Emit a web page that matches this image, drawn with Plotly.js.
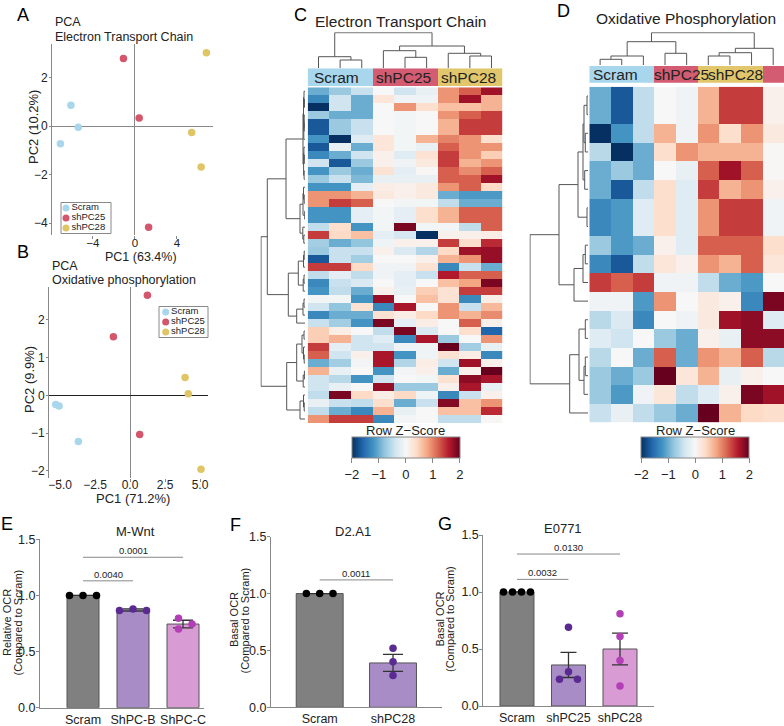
<!DOCTYPE html>
<html><head><meta charset="utf-8">
<script src="https://cdn.plot.ly/plotly-3.0.1.min.js"></script>
<style>html,body{margin:0;padding:0;background:#fff}#chart{width:784px;height:726px}</style>
</head><body><div id="chart"></div>
<script>
// ================= DATA =================
const groups = ['Scram', 'shPC25', 'shPC28'];
const groupColors = ['#a8d6ec', '#d4566d', '#e0c566'];

// Panel A: PCA, Electron Transport Chain
const pcaA_group = [0, 0, 0, 1, 1, 1, 2, 2, 2];
const pcaA_pc1 = [-6.1, -5.4, -7.1, -1.1, 0.4, 1.3, 6.8, 5.4, 6.3];
const pcaA_pc2 = [0.86, -0.05, -0.73, 2.78, 0.33, -4.17, 3.02, -0.27, -1.69];

// Panel B: PCA, Oxidative phosphorylation
const pcaB_group = [0, 0, 0, 1, 1, 1, 2, 2, 2];
const pcaB_pc1 = [-5.31, -5.07, -3.69, 1.24, -1.19, 0.69, 3.93, 4.16, 5.07];
const pcaB_pc2 = [-0.24, -0.28, -1.22, 2.65, 1.55, -1.04, 0.47, 0.04, -1.96];

// Panel C: heatmap, Electron Transport Chain (row z-scores)
const etcColGroup = [0, 0, 0, 1, 1, 1, 2, 2, 2];
const etcZ = [
 [-1.0,-0.75,-0.45, 0,-0.4,-0.15, 0.9,1.2,1.7],
 [-1.3,-0.4,-1.0, 0.25,-0.08,-0.08, 0.9,1.7,0.7],
 [-2.0,-0.4,-1.0, 0,0.9,0.35, 0.6,0.6,0.7],
 [-0.75,-1.0,-1.0, 0,-0.05,0, 0.9,1.2,1.4],
 [-1.7,-0.75,-0.45, 0,-0.05,0, 0.7,1.4,1.4],
 [-1.7,-0.75,-0.45, 0,-0.05,0, 0.7,1.4,1.4],
 [-1.2,-2.0,-0.25, 0.25,-0.05,0.7, 1.0,0.9,0.35],
 [-1.7,-0.15,-1.0, 0.25,-0.05,-0.15, 1.2,0.9,0.9],
 [-1.3,-1.0,-0.4, 0.1,-0.25,0.3, 1.4,0.9,0.5],
 [-0.4,-1.7,-0.75, 0.1,-0.08,0.2, 1.4,0.7,0.9],
 [-1.2,-0.75,-1.0, 0.3,-0.2,0.02, 1.2,0.95,1.2],
 [-0.75,-0.45,-0.9, -0.15,-0.15,-0.15, 1.2,1.2,1.7],
 [-1.2,-1.2,-0.2, 0.15,0.1,0.2, 0.9,1.2,0.4],
 [0.9,0.9,0.7, 0.2,0.1,0.2, -1.0,-1.15,-1.15],
 [0.9,1.4,1.2, 0,-0.05,-0.05, -0.5,-1.0,-1.0],
 [-1.2,-1.2,-0.2, -0.05,-0.2,0.35, 0.7,1.2,1.2],
 [-1.2,-1.2,-0.2, -0.05,-0.2,0.35, 0.7,1.2,1.2],
 [-0.5,0.35,-1.2, -0.05,1.9,-0.05, -0.05,-0.5,1.2],
 [1.4,0.4,0.6, -0.2,-0.35,-2.0, 0.1,0.1,0.15],
 [-0.7,-1.0,-0.8, -0.1,0.1,0.1, 1.4,0.35,1.5],
 [-0.75,-0.45,-0.45, 0.1,-0.3,-0.6, 0.4,1.7,1.75],
 [-1.7,-0.45,-0.7, 0,0,0.1, 0.7,0.9,1.75],
 [1.4,1.4,0.4, -0.08,-0.08,0.3, -1.3,-0.45,-1.0],
 [-0.5,-0.2,-0.5, -0.08,-0.2,-0.45, 1.6,1.2,1.2],
 [-1.3,-0.45,-0.3, 0,-0.2,0, 0.6,0.8,1.9],
 [-1.2,-0.5,-1.0, 0.1,-0.15,0.5, 0.3,1.4,1.4],
 [-0.05,-0.05,-1.2, 1.75,0,0.6, 0.3,-1.3,0.15],
 [-0.4,-0.8,0.3, -1.3,1.65,0, 0.9,-0.45,0.65],
 [-1.3,-1.0,-1.0, 0.3,0.15,0.4, 0.9,0.7,0.95],
 [-0.45,-0.7,-1.2, 1.9,-0.2,0.15, 0,1.2,0.1],
 [0.5,0.15,0, -0.5,1.9,-0.3, 0,0.35,-1.6],
 [0.5,0.7,-0.4, -0.25,-1.3,1.65, -0.75,0,0.9],
 [1.4,-0.2,-0.4, -0.4,-0.08,-0.08, 2.0,-0.7,-0.15],
 [1.2,-0.4,0.1, 1.65,-1.2,-0.1, 0.3,0.15,-1.3],
 [-1.0,-0.7,-0.05, 1.65,-0.6,0.15, -0.4,1.7,0.1],
 [0.7,-0.15,0, -1.2,-0.05,0.1, -1.0,0.1,2.0],
 [-0.4,-0.55,-1.2, -0.4,0,-0.05, 0.3,1.8,1.65],
 [-0.4,-0.15,0, 1.75,-0.75,-0.75, 0.1,1.65,-0.15],
 [-0.5,1.9,0.4, 0.15,0.4,-0.1, -1.3,-0.45,0.1],
 [-0.15,-0.45,-0.5, 0.35,-1.0,-0.45, 1.85,0.6,0.9],
 [-0.5,-1.0,-1.3, 0.7,-0.15,0, 0.6,0.6,1.5],
 [0.9,1.4,1.4, -1.3,-0.05,0, -0.5,-0.5,0.02]
];
// dendrograms: [left, right, height]; leaves are row / column indices
const etcColTree = [[0,[1,2,8.3],11.6],[[3,[4,5,11],17.6],[6,[7,8,12.3],15],22.3],35.6];
const etcRowTree = [
  [
    [
      [[[0,[1,2,0.6],1.0],[[3,[4,5,0.2],0.8],6,1.2],1.5],[[7,[8,9,0.7],1.1],[10,11,0.9],1.4],2.0],
      [[[12,[13,14,0.8],1.5],[15,16,0.3],2.0],[17,[18,19,1.2],2.2],5.0],
      19],
    [
      [[[20,21,0.8],22,1.5],[[23,24,1.0],25,1.8],6.7],
      [[[26,27,1.0],28,2.0],29,8.3],
      16.7],
    37.7],
  [
    [[[30,31,1.0],[32,[33,34,0.8],1.5],3.0],[[35,36,0.6],37,1.8],8.3],
    [[38,[39,40,0.8],1.5],41,5.0],
    18.3],
  44];

// Panel D: heatmap, Oxidative Phosphorylation
const oxColGroup = [0, 0, 0, 1, 1, 2, 2, 2, 1];
const oxZ = [
 [-1.0,-1.7,-0.5, 0,-0.08, 0.7,1.4,1.4, 0.1],
 [-1.0,-1.7,-0.5, 0,-0.08, 0.7,1.4,1.4, 0.1],
 [-2.0,-1.2,-0.5, 0.7,-0.08, 0.9,0.35,0.9, 0.2],
 [-0.55,-2.0,-1.0, 0.35,0.9, 0.7,0.7,0.7, 0.02],
 [-1.0,-0.75,-1.0, 0,-0.15, 1.2,1.7,1.2, 0.02],
 [-1.0,-1.7,-0.5, 0.35,-0.25, 1.4,0.7,0.9, 0.1],
 [-1.3,-1.15,-0.25, 0.35,-0.25, 0.9,1.4,1.4, -0.08],
 [-1.3,-1.15,-0.25, 0.35,-0.25, 0.9,1.4,1.4, -0.08],
 [-0.75,-1.15,-1.0, 0.1,-0.25, 1.2,1.2,1.2, 0.35],
 [-1.3,-1.7,-0.5, 0.25,0.1, 0.9,0.7,1.2, 0.25],
 [1.4,1.2,1.4, -0.08,-0.08, -0.5,-1.0,-1.15, 0],
 [-0.08,-0.08,-1.15, 0.9,0, 0.2,0.1,-1.3, 1.9],
 [-0.55,-0.3,-1.3, 0,-0.08, 0.2,1.7,1.8, -0.25],
 [-0.25,-0.4,0, -0.75,-1.0, 0.1,-0.15,1.8, 1.8],
 [-0.55,0,-1.0, 1.2,-1.0, 0.9,0.7,1.2, -0.55],
 [-0.75,-1.0,-0.75, 2.0,0.25, 0.7,-0.15,0.1, 0],
 [-0.75,-1.15,-0.08, 0.25,-0.5, -0.25,0.1,1.9, 1.7],
 [-0.45,-0.15,-0.5, -0.75,-1.0, 2.0,0.7,0.4, 0.35]
];
const oxColTree = [[[[0,1,5.7],2,9],[3,4,11.7],23.3],[[[5,6,9],7,12.3],8,16.7],32.3];
const oxRowTree = [
  [
    [[[[0,1,1],[2,3,2.7],4],[4,5,3.3],5],[6,7,1],10],
    [[[8,9,2.7],10,5],11,14],
    29],
  [[[12,13,2.7],[[14,15,2.7],16,4],9],17,18.3],
  58];

// Panel E: M-Wnt
const E_labels = ['Scram', 'ShPC-B', 'ShPC-C'];
const E_mean = [1.0, 0.87, 0.745];
const E_sem = [0, 0.01, 0.034];
const E_points = [[1, 1, 1], [0.865, 0.88, 0.865], [0.797, 0.746, 0.70]];
const E_sigPairs = [[0, 2], [0, 1]];
const E_sigP = ['0.0001', '0.0040'];

// Panel F: D2.A1
const F_labels = ['Scram', 'shPC28'];
const F_mean = [1.0, 0.39];
const F_sem = [0, 0.075];
const F_points = [[1, 1, 1], [0.52, 0.40, 0.28]];
const F_sigPairs = [[0, 1]];
const F_sigP = ['0.0011'];

// Panel G: E0771
const G_labels = ['Scram', 'shPC25', 'shPC28'];
const G_mean = [1.0, 0.36, 0.50];
const G_sem = [0, 0.11, 0.14];
const G_points = [[1, 1, 1, 1], [0.69, 0.30, 0.235, 0.235], [0.81, 0.61, 0.40, 0.175]];
const G_sigPairs = [[0, 2], [0, 1]];
const G_sigP = ['0.0130', '0.0032'];

// ================= DRAWING =================
const FONT = 'Liberation Sans, Arial, Helvetica, sans-serif';
const W = 784, H = 726;
const X = (a, b) => [a / W, b / W];
const Y = (top, bottom) => [1 - bottom / H, 1 - top / H];
const PX = x => x / W, PY = y => 1 - y / H;

const traces = [], shapes = [], annotations = [];
const layout = {
  width: W, height: H, margin: {l: 0, r: 0, t: 0, b: 0},
  paper_bgcolor: '#fff', plot_bgcolor: 'rgba(0,0,0,0)', showlegend: false,
  font: {family: FONT, color: '#222', size: 12}, shapes, annotations
};
function txt(x, y, text, size, opts) {
  annotations.push(Object.assign({xref: 'paper', yref: 'paper', x: PX(x), y: PY(y), text: text,
    showarrow: false, font: {family: FONT, size: size, color: '#222'}, xanchor: 'center', yanchor: 'middle'}, opts || {}));
}
const hidden = {visible: false, showgrid: false, zeroline: false, fixedrange: true};

// ---------- PCA ----------
function pca(ax, group, pc1, pc2) {
  for (let g = 0; g < groups.length; g++) {
    const idx = group.map((v, i) => v === g ? i : -1).filter(i => i >= 0);
    traces.push({type: 'scatter', mode: 'markers', x: idx.map(i => pc1[i]), y: idx.map(i => pc2[i]),
      xaxis: 'x' + ax, yaxis: 'y' + ax, marker: {color: groupColors[g], size: 7.5}, hoverinfo: 'skip', cliponaxis: false});
  }
}
pca('', pcaA_group, pcaA_pc1, pcaA_pc2);
pca('2', pcaB_group, pcaB_pc1, pcaB_pc2);
const pcaAxis = {showgrid: false, ticks: 'outside', ticklen: 3, tickcolor: '#888', tickfont: {size: 12}, zeroline: true, zerolinecolor: '#888', zerolinewidth: 1, fixedrange: true};
layout.xaxis = Object.assign({}, pcaAxis, {domain: X(52, 213), range: [-7.9, 7.43], anchor: 'y', tickvals: [-4, 0, 4], showline: false, ticklabelstandoff: -6, tickfont: {size: 11.5}});
layout.yaxis = Object.assign({}, pcaAxis, {domain: Y(44, 235), range: [-4.49, 3.38], anchor: 'x', tickvals: [-4, -2, 0, 2], showline: true, linecolor: '#888', ticklen: 2, ticklabelstandoff: -1});
layout.xaxis2 = Object.assign({}, pcaAxis, {domain: X(49, 208), range: [-5.79, 5.57], anchor: 'y2', tickvals: [-5, -2.5, 0, 2.5, 5], tickformat: '.1f', showline: false, ticklabelstandoff: -7});
layout.yaxis2 = Object.assign({}, pcaAxis, {domain: Y(287, 478), range: [-2.19, 2.87], anchor: 'x2', tickvals: [-2, -1, 0, 1, 2], showline: true, linecolor: '#888', zerolinecolor: '#222', ticklen: 2, ticklabelstandoff: -1});

txt(53, 22.5, 'PCA', 12.5, {xanchor: 'left'});
txt(53, 36.5, 'Electron Transport Chain', 12.5, {xanchor: 'left'});
txt(50, 266, 'PCA', 12.5, {xanchor: 'left'});
txt(50, 280, 'Oxidative phosphorylation', 12.5, {xanchor: 'left'});
txt(141, 257.5, 'PC1 (63.4%)', 12.5);
txt(33, 127, 'PC2 (10.2%)', 13, {textangle: -90});
txt(133, 498.5, 'PC1 (71.2%)', 13);
txt(30, 380, 'PC2 (9.9%)', 13, {textangle: -90});

// compact legends (overlay axis in page pixels)
layout.xaxis20 = Object.assign({}, hidden, {domain: [0, 1], range: [0, W], anchor: 'y20'});
layout.yaxis20 = Object.assign({}, hidden, {domain: [0, 1], range: [H, 0], anchor: 'x20'});
function legendBox(x0, y0, x1, y1, mx, tops) {
  shapes.push({type: 'rect', layer: 'below', xref: 'paper', yref: 'paper', x0: PX(x0), x1: PX(x1), y0: PY(y1), y1: PY(y0), line: {color: '#888', width: 1}, fillcolor: '#fff'});
  traces.push({type: 'scatter', mode: 'markers+text', xaxis: 'x20', yaxis: 'y20', x: groups.map(() => mx), y: tops,
    text: groups, textposition: 'middle right', textfont: {size: 9.5, family: FONT, color: '#222'},
    marker: {color: groupColors, size: 7}, hoverinfo: 'skip', cliponaxis: false});
}
legendBox(61, 202.5, 111, 233.5, 66, [208, 218, 228]);
legendBox(159, 306.5, 208, 337.5, 165.7, [312, 322, 332]);

// ---------- heatmaps ----------
const RDBU = [[0, '#053061'], [0.1, '#2166ac'], [0.2, '#4393c3'], [0.3, '#92c5de'], [0.4, '#d1e5f0'], [0.5, '#f7f7f7'],
  [0.6, '#fddbc7'], [0.7, '#f4a582'], [0.8, '#d6604d'], [0.9, '#b2182b'], [1, '#67001f']];
const headerScale = [[0, groupColors[0]], [0.5, '#d35b72'], [1, '#e1c66b']];

function dendro(tree) {
  const leaf = [], height = [];
  (function walk(n) {
    if (typeof n === 'number') return {p: n, h: 0};
    const a = walk(n[0]), b = walk(n[1]), h = n[2];
    leaf.push(a.p, a.p, b.p, b.p, null);
    height.push(a.h, h, h, b.h, null);
    return {p: (a.p + b.p) / 2, h: h};
  })(tree);
  return {leaf, height};
}
function heatPanel(z, colGroup, colTree, rowTree, ax, cax) {
  const hx = 'x' + ax.hx, hy = 'y' + ax.hy;
  traces.push({type: 'heatmap', z: z, x: z[0].map((_, i) => i), y: z.map((_, i) => i), xaxis: hx, yaxis: hy,
    coloraxis: cax, zsmooth: false, hoverinfo: 'skip'});
  traces.push({type: 'heatmap', z: [colGroup], x: colGroup.map((_, i) => i), y: [0], xaxis: hx, yaxis: 'y' + ax.head,
    colorscale: headerScale, zmin: 0, zmax: 2, showscale: false, hoverinfo: 'skip'});
  const cd = dendro(colTree);
  traces.push({type: 'scatter', mode: 'lines', x: cd.leaf, y: cd.height, xaxis: hx, yaxis: 'y' + ax.cd,
    line: {color: '#555', width: 1}, hoverinfo: 'skip', connectgaps: false});
  const rd = dendro(rowTree);
  traces.push({type: 'scatter', mode: 'lines', x: rd.height, y: rd.leaf, xaxis: 'x' + ax.rd, yaxis: hy,
    line: {color: '#555', width: 1}, hoverinfo: 'skip', connectgaps: false});
}
heatPanel(etcZ, etcColGroup, etcColTree, etcRowTree, {hx: 3, hy: 3, head: 6, cd: 5, rd: 4}, 'coloraxis');
heatPanel(oxZ, oxColGroup, oxColTree, oxRowTree, {hx: 7, hy: 7, head: 10, cd: 9, rd: 8}, 'coloraxis2');

layout.xaxis3 = Object.assign({}, hidden, {domain: X(307.7, 502.3), range: [-0.5, 8.5], anchor: 'y3'});
layout.yaxis3 = Object.assign({}, hidden, {domain: Y(87.3, 423), range: [etcZ.length - 0.5, -0.5], anchor: 'x3'});
layout.xaxis4 = Object.assign({}, hidden, {domain: X(260.5, 305), range: [44.5, 0], anchor: 'y3'});
layout.yaxis5 = Object.assign({}, hidden, {domain: Y(32.2, 68.3), range: [0, 36.1], anchor: 'x3'});
layout.yaxis6 = Object.assign({}, hidden, {domain: Y(68.3, 86), range: [-0.5, 0.5], anchor: 'x3'});
layout.xaxis7 = Object.assign({}, hidden, {domain: X(589.3, 784), range: [-0.5, 8.5], anchor: 'y7'});
layout.yaxis7 = Object.assign({}, hidden, {domain: Y(86.7, 422.3), range: [oxZ.length - 0.5, -0.5], anchor: 'x7'});
layout.xaxis8 = Object.assign({}, hidden, {domain: X(529.5, 588), range: [58.5, 0], anchor: 'y7'});
layout.yaxis9 = Object.assign({}, hidden, {domain: Y(32.2, 65), range: [0, 32.8], anchor: 'x7'});
layout.yaxis10 = Object.assign({}, hidden, {domain: Y(66, 82.7), range: [-0.5, 0.5], anchor: 'x7'});

function cbar(cx) {
  return {orientation: 'h', x: PX(cx), xanchor: 'center', xref: 'paper', y: PY(436.7), yanchor: 'top', yref: 'paper',
    len: 108.3 / W, lenmode: 'fraction', thickness: 20.6, thicknessmode: 'pixels', xpad: 0, ypad: 0,
    outlinewidth: 1, outlinecolor: '#888', tickvals: [-2, -1, 0, 1, 2], ticks: 'outside', ticklen: 5, tickcolor: '#888',
    tickfont: {size: 13, family: FONT, color: '#222'}};
}
layout.coloraxis = {cmin: -2, cmax: 2, colorscale: RDBU, colorbar: cbar(405.85)};
layout.coloraxis2 = {cmin: -2, cmax: 2, colorscale: RDBU, colorbar: cbar(695.3)};
txt(405.85, 430, 'Row Z−Score', 13);
txt(695.3, 430, 'Row Z−Score', 13);

txt(400, 22, 'Electron Transport Chain', 15.5);
txt(686, 18.5, 'Oxidative Phosphorylation', 15.5);
// header labels
txt(311.5, 77.5, 'Scram', 15.5, {xanchor: 'left'});
txt(374, 77.5, 'shPC25', 15.5, {xanchor: 'left'});
txt(439, 77.5, 'shPC28', 15.5, {xanchor: 'left'});
txt(590.5, 75, 'Scram', 15.5, {xanchor: 'left'});
txt(652, 75, 'shPC25', 15.5, {xanchor: 'left'});
txt(706, 75, 'shPC28', 15.5, {xanchor: 'left'});

// ---------- bar charts ----------
function swarm(vals, pxPerY, step, diam) {
  const order = vals.map((v, i) => i).sort((a, b) => vals[b] - vals[a]);
  const placed = [], off = vals.map(() => 0);
  for (const i of order) {
    const y = vals[i] * pxPerY;
    for (let k = 0; k < 30; k++) {
      const c = (k === 0 ? 0 : (k % 2 ? Math.ceil(k / 2) : -k / 2)) * step;
      if (placed.every(p => Math.abs(p.x - c) >= diam - 0.01 || Math.abs(p.y - y) >= diam)) {
        off[i] = c; placed.push({x: c, y: y}); break;
      }
    }
  }
  const m = off.reduce((a, b) => a + b, 0) / off.length;
  return off.map(o => o - m);
}
const barColors = ['#808080', '#a88cc6', '#d89bd4'];
const dotColors = ['#000000', '#5a2a92', '#b23fb5'];
function barPanel(n, labels, means, sems, points, sigPairs, sigP, cfg) {
  const xa = 'x' + n, ya = 'y' + n;
  const idx = labels.map((_, i) => i);
  const xUnit = (cfg.dx[1] - cfg.dx[0]) / (cfg.range[1] - cfg.range[0]);
  const yUnit = (cfg.dy[1] - cfg.dy[0]) / 1.5;
  traces.push({type: 'bar', x: idx, y: means, width: cfg.barW, xaxis: xa, yaxis: ya,
    marker: {color: idx.map(i => barColors[i]), line: {color: '#555', width: 1}},
    error_y: {type: 'data', array: sems, visible: true, color: '#333', thickness: 1.3, width: cfg.cap}, hoverinfo: 'skip'});
  points.forEach((pts, g) => {
    const off = swarm(pts, yUnit, cfg.step, 7.5);
    traces.push({type: 'scatter', mode: 'markers', x: pts.map((_, j) => g + off[j] / xUnit), y: pts, xaxis: xa, yaxis: ya,
      marker: {color: dotColors[g], size: 7.5}, hoverinfo: 'skip', cliponaxis: false});
  });
  layout['xaxis' + n] = {domain: X(cfg.dx[0], cfg.dx[1]), range: cfg.range, anchor: ya, tickvals: idx, ticktext: labels,
    showline: true, linecolor: '#888', linewidth: 1, ticks: '', showgrid: false, zeroline: false, fixedrange: true, tickfont: {size: 12.5}};
  layout['yaxis' + n] = {domain: Y(cfg.dy[0], cfg.dy[1]), range: [0, 1.5], anchor: xa, tickvals: [0, 0.5, 1, 1.5], tickformat: '.1f',
    showline: true, linecolor: '#888', linewidth: 1, ticks: 'outside', ticklen: 3, tickcolor: '#888', showgrid: false, zeroline: false,
    fixedrange: true, tickfont: {size: 12.5}, ticklabelstandoff: -2};
  sigPairs.forEach((pr, k) => {
    const yv = cfg.sigY[k];
    shapes.push({type: 'line', xref: xa, yref: ya, x0: pr[0], x1: pr[1], y0: yv, y1: yv, line: {color: '#888', width: 1}});
    annotations.push({xref: xa, yref: ya, x: (pr[0] + pr[1]) / 2, y: yv, text: sigP[k], showarrow: false,
      yanchor: 'bottom', yshift: -1, font: {family: FONT, size: 9.5, color: '#222'}});
  });
}
barPanel(11, E_labels, E_mean, E_sem, E_points, E_sigPairs, E_sigP,
  {dx: [40, 204], dy: [539.3, 707.7], range: [-0.86, 2.42], barW: 0.64, cap: 10, step: 13.5, sigY: [1.34, 1.13]});
barPanel(12, F_labels, F_mean, F_sem, F_points, F_sigPairs, F_sigP,
  {dx: [271, 441.7], dy: [536.7, 707.3], range: [-0.664, 1.664], barW: 0.64, cap: 10, step: 13.3, sigY: [1.12]});
barPanel(13, G_labels, G_mean, G_sem, G_points, G_sigPairs, G_sigP,
  {dx: [483.3, 654.3], dy: [535, 706], range: [-0.654, 2.666], barW: 0.66, cap: 8, step: 9, sigY: [1.333, 1.111]});

txt(135, 531, 'M-Wnt', 13);
txt(353, 531, 'D2.A1', 13);
txt(562.5, 528, 'E0771', 13);
txt(7, 623, 'Relative OCR', 11, {textangle: -90});
txt(17.5, 623, '(Compared to Scram)', 11, {textangle: -90});
txt(234, 620, 'Basal OCR', 11, {textangle: -90});
txt(244.5, 620, '(Compared to Scram)', 11, {textangle: -90});
txt(439.5, 619, 'Basal OCR', 11, {textangle: -90});
txt(450, 619, '(Compared to Scram)', 11, {textangle: -90});

// panel letters
[['A', 23, 15], ['B', 23, 252], ['C', 300, 15], ['D', 563, 11], ['E', 7, 524], ['F', 235, 525], ['G', 445, 524]]
  .forEach(l => txt(l[1], l[2], l[0], 18, {font: {family: FONT, size: 18, color: '#000'}}));

Plotly.newPlot('chart', traces, layout, {staticPlot: true, displayModeBar: false});
</script>
</body></html>
